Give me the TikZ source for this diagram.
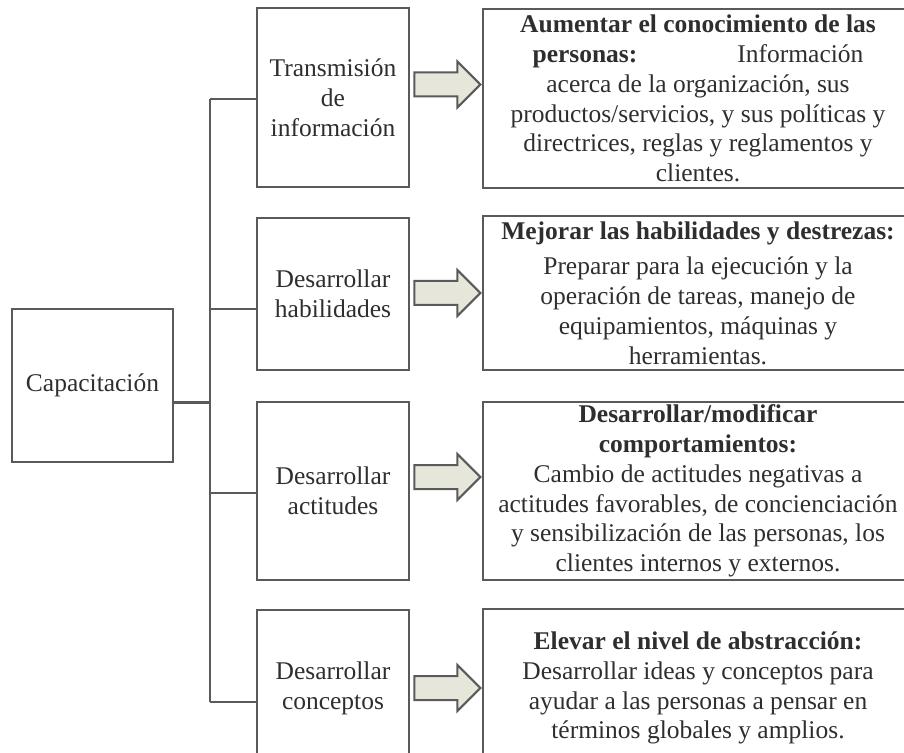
\documentclass[tikz,border=0pt]{standalone}
\usepackage{fontspec}
\setmainfont{Liberation Serif}
\usetikzlibrary{positioning,shapes.arrows}

\definecolor{boxline}{HTML}{5A5A5A}
\definecolor{arrowfill}{HTML}{E6E6DA}
\definecolor{txt}{HTML}{2E2E2E}

\tikzset{
  box/.style={draw=boxline, line width=1.2pt, align=center, text=txt, inner sep=0pt},
  leftbox/.style={box, minimum width=76pt},
  rightbox/.style={box, minimum width=215pt},
  link/.style={draw=boxline, line width=1.2pt},
  fatarrow/.style={single arrow, draw=boxline, fill=arrowfill, line width=1pt,
    minimum height=33pt, inner xsep=0pt, inner ysep=5.5pt,
    text height=0pt, text depth=0pt, single arrow head extend=5.5pt}
}

\begin{document}
\begin{tikzpicture}[x=0.5pt,y=-0.5pt,font=\fontsize{12.75}{14.9}\selectfont]
\useasboundingbox (0,0) rectangle (904,753);
\clip (0,0) rectangle (904,753);

% root
\node[box, minimum width=80.5pt, minimum height=76.5pt] (cap) at (92.5,385.5) {Capacitación};

% middle column
\node[leftbox, minimum height=89.5pt] (t1) at (333,97.5) {Transmisión\\de\\información};
\node[leftbox, minimum height=76pt] (t2) at (333,294) {Desarrollar\\habilidades};
\node[leftbox, minimum height=89pt] (t3) at (333,491) {Desarrollar\\actitudes};
\node[leftbox, minimum height=78pt] (t4) at (333,688) {Desarrollar\\conceptos};

% right column
\node[rightbox, minimum height=89.5pt] (r1) at (698,98.5) {\textbf{Aumentar el conocimiento de las}\\\textbf{personas:}\hspace{50pt}Información\\acerca de la organización, sus\\productos/servicios, y sus políticas y\\directrices, reglas y reglamentos y\\clientes.};
\node[rightbox, minimum height=77pt] (r2) at (698,293) {\textbf{Mejorar las habilidades y destrezas:}\\[3pt]Preparar para la ejecución y la\\operación de tareas, manejo de\\equipamientos, máquinas y\\herramientas.};
\node[rightbox, minimum height=89pt] (r3) at (698,491) {\textbf{Desarrollar/modificar}\\\textbf{comportamientos:}\\Cambio de actitudes negativas a\\actitudes favorables, de concienciación\\y sensibilización de las personas, los\\clientes internos y externos.};
\node[rightbox, minimum height=79pt] (r4) at (698,688) {\textbf{Elevar el nivel de abstracción:}\\Desarrollar ideas y conceptos para\\ayudar a las personas a pensar en\\términos globales y amplios.};

% tree lines
\coordinate (trunk) at (210,0);
\coordinate (capout) at ([yshift=-8.5pt]cap.east);
\coordinate (b1) at ([yshift=-0.75pt]t1.west);
\coordinate (b2) at ([yshift=-7.5pt]t2.west);
\coordinate (b3) at ([yshift=-1pt]t3.west);
\coordinate (b4) at ([yshift=-7pt]t4.west);
\draw[link] (trunk |- b1) -- (trunk |- b4);
\draw[link] (capout) -- (capout -| trunk);
\foreach \i in {1,...,4}
  \draw[link] (trunk |- b\i) -- (b\i);

% block arrows
\node[fatarrow, anchor=tip] (a1) at ([yshift=7pt]r1.west) {};
\node[fatarrow, anchor=tip] (a2) at (r2.west) {};
\node[fatarrow, anchor=tip] (a3) at ([yshift=7pt]r3.west) {};
\node[fatarrow, anchor=tip] (a4) at (r4.west) {};
\end{tikzpicture}
\end{document}
